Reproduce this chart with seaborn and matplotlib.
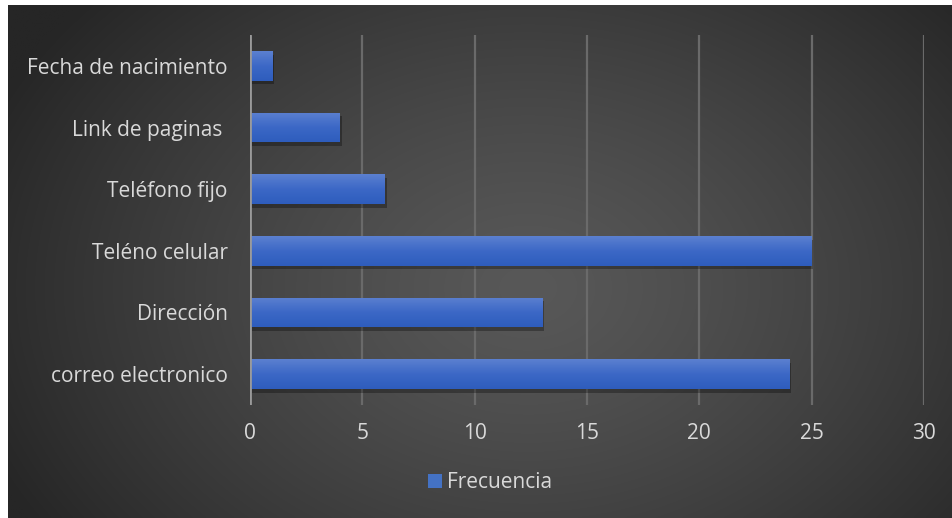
import numpy as np
import pandas as pd
import matplotlib
matplotlib.use("Agg")
import matplotlib.pyplot as plt
import seaborn as sns
from matplotlib.patches import Rectangle, Patch
from matplotlib.colors import LinearSegmentedColormap

categories = ["Fecha de nacimiento", "Link de paginas ", "Teléfono fijo",
              "Teléno celular", "Dirección", "correo electronico"]
frecuencia = [1, 4, 6, 25, 13, 24]
xticks = [0, 5, 10, 15, 20, 25, 30]
series_name = "Frecuencia"

sns.set_style("dark")
plt.rcParams['font.family'] = ['Open Sans', 'DejaVu Sans']

W, H = 952, 518
fig = plt.figure(figsize=(W / 100, H / 100), dpi=100)
fig.patch.set_facecolor("white")

# background with radial gradient
bg = fig.add_axes([8 / W, 0, (W - 8) / W, (H - 5) / H])
bg.set_axis_off()
ny, nx = 260, 480
yy, xx = np.mgrid[0:ny, 0:nx]
cx, cy = nx * 0.55, ny * 0.55
r = np.sqrt(((xx - cx) / (nx * 0.62)) ** 2 + ((yy - cy) / (ny * 0.85)) ** 2)
r = np.clip(r, 0, 1)
c0, c1 = 0x58 / 255, 0x26 / 255
val = c0 + (c1 - c0) * r ** 1.3
img = np.dstack([val, val, val])
bg.imshow(img, aspect="auto", extent=(0, 1, 0, 1), interpolation="bilinear")
bg.set_xlim(0, 1)
bg.set_ylim(0, 1)

left, right = 250 / W, 924 / W
top, bottom = 1 - 35 / H, 1 - 405 / H
ax = fig.add_axes([left, bottom, right - left, top - bottom])
ax.patch.set_alpha(0)

df = pd.DataFrame({"cat": categories, "val": frecuencia})
sns.barplot(data=df, x="val", y="cat", orient="h", color="#4472C4",
            width=0.48, ax=ax, zorder=3, saturation=1, edgecolor="none", linewidth=0)

cmap = LinearSegmentedColormap.from_list("bar", ["#5b80d0", "#3c68c6", "#2e5dbd"])
grad = np.linspace(0, 1, 64).reshape(-1, 1)
for p in list(ax.patches):
    x0, y0, w, h = p.get_x(), p.get_y(), p.get_width(), p.get_height()
    sh = Rectangle((x0 + 0.08, y0 + 0.06), w, h, facecolor="black", alpha=0.3,
                   edgecolor="none", zorder=2)
    ax.add_patch(sh)
    im = ax.imshow(grad, cmap=cmap, aspect="auto", origin="lower",
                   extent=(x0, x0 + w, y0, y0 + h), zorder=4, interpolation="bilinear")
    im.set_clip_path(p)

ax.set_xlim(0, 30)
ax.set_ylim(len(categories) - 0.5, -0.5)
ax.set_xticks(xticks)
ax.set_xticklabels([str(t) for t in xticks])
ax.set_xlabel("")
ax.set_ylabel("")
ax.grid(axis="x", color="#6a6a6a", linewidth=1.6, zorder=1)
ax.grid(axis="y", visible=False)
ax.set_axisbelow(True)
for s in ax.spines.values():
    s.set_visible(False)
ax.axvline(0, color="#9a9a9a", linewidth=2, zorder=5)
ax.tick_params(axis="x", length=0, pad=13, labelsize=15, labelcolor="#d9d9d9")
ax.tick_params(axis="y", length=0, pad=16, labelsize=15, labelcolor="#d9d9d9")

handles = [Patch(facecolor="#4472C4", edgecolor="none", label=series_name)]
leg = fig.legend(handles=handles, loc="center", bbox_to_anchor=(490 / W, 1 - 483 / H),
                 frameon=False, fontsize=15, handlelength=0.65, handleheight=0.65,
                 handletextpad=0.25, labelcolor="#d9d9d9")

fig.savefig("out.png", dpi=100, facecolor=fig.get_facecolor())
